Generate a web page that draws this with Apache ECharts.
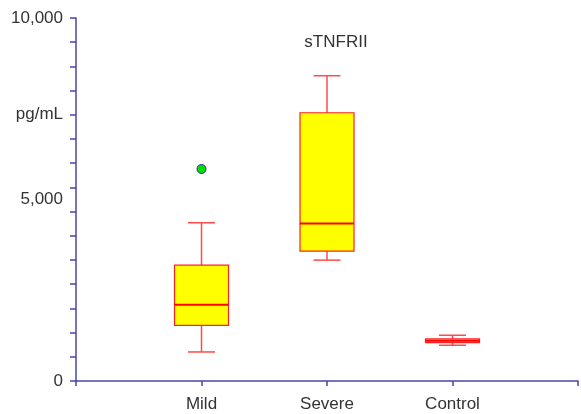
<!DOCTYPE html>
<html>
<head>
<meta charset="utf-8">
<script src="https://cdn.jsdelivr.net/npm/echarts@6/dist/echarts.min.js"></script>
<style>
  html, body { margin: 0; padding: 0; background: #fff; }
  #chart { width: 581px; height: 414px; }
</style>
</head>
<body>
<div id="chart"></div>
<script>
// Groups along the horizontal axis
const categories = ['Mild', 'Severe', 'Control'];
// Five-number summaries per group: [min, Q1, median, Q3, max] in pg/mL
const mildBox = [800, 1530, 2100, 3190, 4360];
const severeBox = [3330, 3580, 4340, 7390, 8410];
const controlBox = [985, 1055, 1110, 1160, 1260];
// Outliers: [group position, value]
const outliers = [[1, 5840]];
// Axis labels
const yTickLabels = [0, 5000, 10000];
const unitLabel = 'pg/mL';
const unitValue = 22000 / 3;
const titleText = 'sTNFRII';

const boxes = [mildBox, severeBox, controlBox].map((b, i) => [i + 1].concat(b));

const FONT = '"Liberation Sans", Arial, sans-serif';
const AXIS = '#4646aa';
const TEXT = '#333';

const chart = echarts.init(document.getElementById('chart'), null, { renderer: 'canvas' });

function renderBox(params, api) {
  const x = api.value(0);
  const pMin = api.coord([x, api.value(1)]);
  const pQ1 = api.coord([x, api.value(2)]);
  const pMed = api.coord([x, api.value(3)]);
  const pQ3 = api.coord([x, api.value(4)]);
  const pMax = api.coord([x, api.value(5)]);
  const cx = pMed[0];
  const hw = 27, cw = 13.5;
  const whisker = { stroke: '#ff4a4a', lineWidth: 1.5 };
  return {
    type: 'group',
    children: [
      { type: 'line', shape: { x1: cx, y1: pQ3[1], x2: cx, y2: pMax[1] }, style: whisker },
      { type: 'line', shape: { x1: cx, y1: pQ1[1], x2: cx, y2: pMin[1] }, style: whisker },
      { type: 'line', shape: { x1: cx - cw, y1: pMax[1], x2: cx + cw, y2: pMax[1] }, style: whisker },
      { type: 'line', shape: { x1: cx - cw, y1: pMin[1], x2: cx + cw, y2: pMin[1] }, style: whisker },
      { type: 'rect', shape: { x: cx - hw, y: pQ3[1], width: hw * 2, height: pQ1[1] - pQ3[1] },
        style: { fill: '#ffff00', stroke: '#ff2020', lineWidth: 1.2 } },
      { type: 'line', shape: { x1: cx - hw, y1: pMed[1], x2: cx + hw, y2: pMed[1] },
        style: { stroke: '#ff0000', lineWidth: 2 } }
    ]
  };
}

chart.setOption({
  animation: false,
  backgroundColor: '#fff',
  grid: { left: 76, right: 1, top: 18, bottom: 33, containLabel: false },
  title: {
    text: titleText, left: 331, top: 29, textAlign: 'center',
    textStyle: { fontFamily: FONT, fontSize: 17, fontWeight: 'normal', color: TEXT }
  },
  xAxis: {
    type: 'value', min: 0, max: 4, interval: 1,
    axisLine: { show: true, lineStyle: { color: AXIS, width: 1.5 } },
    axisTick: { show: true, length: 5, lineStyle: { color: AXIS, width: 1.5 } },
    splitLine: { show: false },
    axisLabel: {
      margin: 15, fontFamily: FONT, fontSize: 17, color: TEXT,
      formatter: v => categories[v - 1] || ''
    }
  },
  yAxis: [
    {
      type: 'value', min: 0, max: 10000, interval: 2000 / 3,
      axisLine: { show: true, lineStyle: { color: AXIS, width: 1.5 } },
      axisTick: { show: true, length: 6, lineStyle: { color: AXIS, width: 1.5 } },
      axisLabel: { show: false },
      splitLine: { show: false }
    },
    {
      type: 'value', position: 'left', min: 0, max: 10000, interval: 5000,
      axisLine: { show: false }, axisTick: { show: false }, splitLine: { show: false },
      axisLabel: {
        margin: 13, fontFamily: FONT, fontSize: 17, color: TEXT,
        formatter: v => yTickLabels.includes(v) ? v.toLocaleString('en-US') : ''
      }
    }
  ],
  series: [
    {
      type: 'custom', renderItem: renderBox, data: boxes,
      encode: { x: 0, y: [1, 2, 3, 4, 5] }, z: 2
    },
    {
      type: 'scatter', data: outliers, symbolSize: 9, z: 3,
      itemStyle: { color: '#00e000', borderColor: '#3030a0', borderWidth: 1, opacity: 1 }
    }
  ]
});

const unitY = chart.convertToPixel({ yAxisIndex: 0 }, unitValue);
chart.setOption({
  graphic: [{
    type: 'text', x: 63, y: unitY,
    style: { text: unitLabel, fontFamily: FONT, fontSize: 17, fill: TEXT, align: 'right', verticalAlign: 'middle' }
  }]
});
</script>
</body>
</html>
